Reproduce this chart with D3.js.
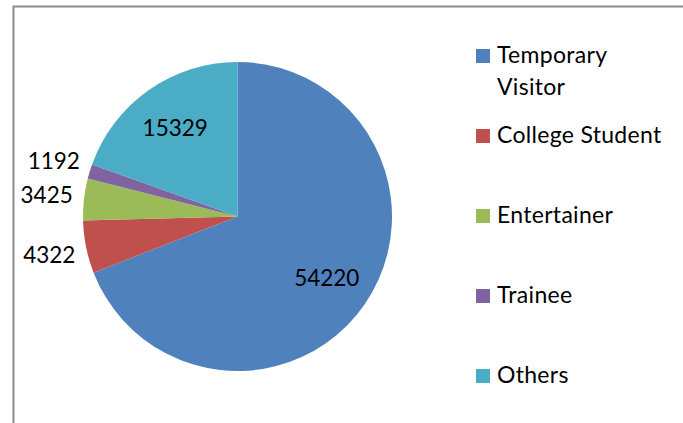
<!DOCTYPE html>
<html>
<head>
<meta charset="utf-8">
<script src="https://cdn.jsdelivr.net/npm/d3@7"></script>
<style>
  html, body { margin: 0; padding: 0; background: #fff; }
  svg { display: block; }
  text { font-family: Lato, "Open Sans", sans-serif; fill: #000; }
</style>
</head>
<body>
<div id="chart"></div>
<script>
var categories = ["Temporary Visitor", "College Student", "Entertainer", "Trainee", "Others"];
var values = [54220, 4322, 3425, 1192, 15329];
var colors = ["#4f81bd", "#c0504d", "#9bbb59", "#8064a2", "#4bacc6"];
// legend lines (first entry wraps)
var legendLines = [["Temporary", "Visitor"], ["College Student"], ["Entertainer"], ["Trainee"], ["Others"]];

var w = 683, h = 423,
    cx = 237.5, cy = 216.5, r = 154.5;

var svg = d3.select("#chart").append("svg")
  .attr("width", w)
  .attr("height", h);

// chart frame (only left and top edges are inside the picture)
svg.append("rect")
  .attr("x", 13.5).attr("y", 6.5)
  .attr("width", w + 20).attr("height", h + 20)
  .attr("fill", "none")
  .attr("stroke", "#8c8c8c")
  .attr("stroke-width", 2);

var data = categories.map(function(c, i) { return { name: c, value: values[i], color: colors[i] }; });

var pie = d3.pie().sort(null).value(function(d) { return d.value; });
var arcs = pie(data);
var arc = d3.arc().innerRadius(0).outerRadius(r);
var inLabel = d3.arc().innerRadius(r * 0.7).outerRadius(r * 0.7);
var outLabel = d3.arc().innerRadius(r * 1.243).outerRadius(r * 1.243);

var g = svg.append("g").attr("transform", "translate(" + cx + "," + cy + ")");

g.selectAll("path.slice").data(arcs).enter().append("path")
  .attr("class", "slice")
  .attr("d", arc)
  .attr("fill", function(d) { return d.data.color; });

g.selectAll("text.lbl").data(arcs).enter().append("text")
  .attr("class", "lbl")
  .attr("transform", function(d) {
    var share = d.data.value / d3.sum(values);
    var p = share > 0.1 ? inLabel.centroid(d) : outLabel.centroid(d);
    return "translate(" + p[0] + "," + p[1] + ")";
  })
  .attr("dy", "0.36em")
  .attr("text-anchor", "middle")
  .style("font-size", "22.5px")
  .text(function(d) { return d.data.value; });

// legend
var legend = svg.append("g").attr("transform", "translate(476, 49)");
var rows = legend.selectAll("g").data(data).enter().append("g")
  .attr("transform", function(d, i) { return "translate(0," + (i * 80) + ")"; });

rows.append("rect")
  .attr("width", 14).attr("height", 14)
  .attr("fill", function(d) { return d.color; });

rows.each(function(d, i) {
  var t = d3.select(this).append("text")
    .attr("x", 21).attr("y", 13.5)
    .style("font-size", "23px")
    .style("letter-spacing", "0.3px");
  legendLines[i].forEach(function(line, j) {
    t.append("tspan").attr("x", 21).attr("dy", j === 0 ? 0 : 32).text(line);
  });
});
</script>
</body>
</html>
